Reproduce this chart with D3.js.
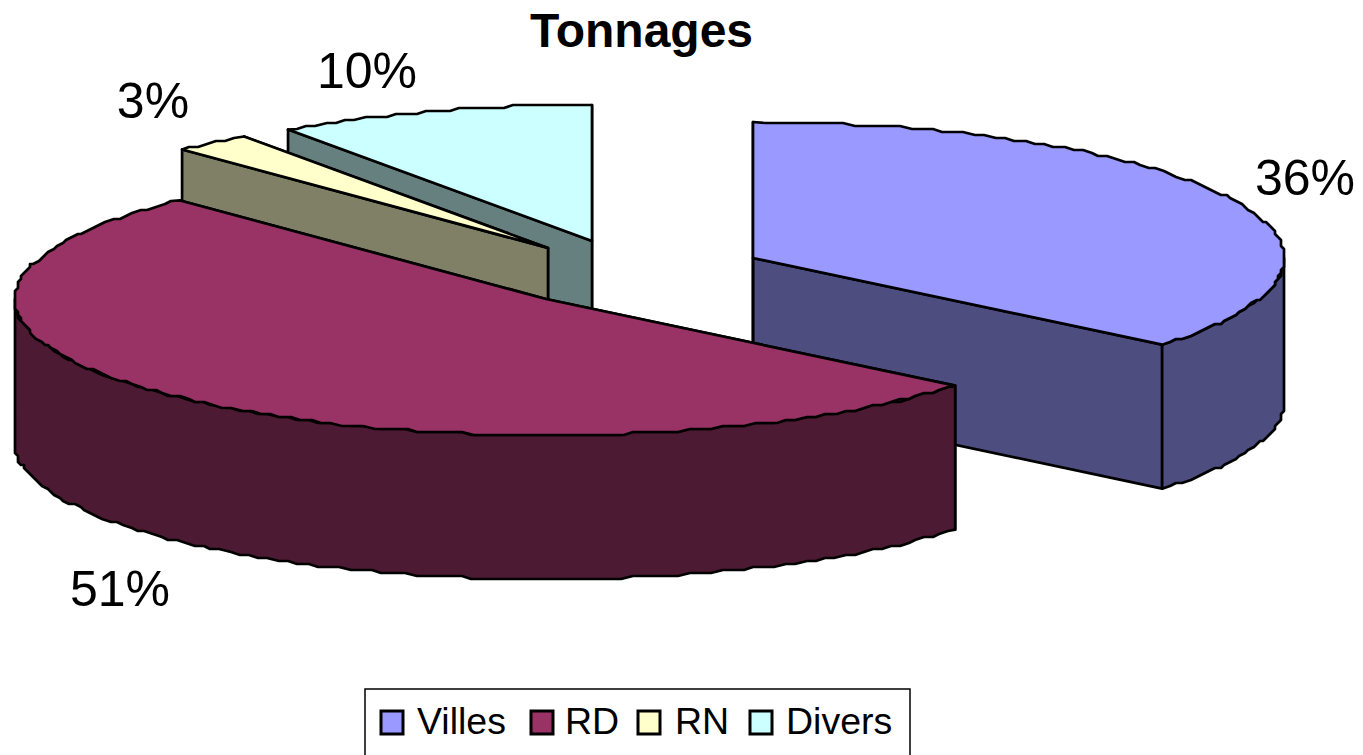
<!DOCTYPE html>
<html><head><meta charset="utf-8">
<script src="https://cdn.jsdelivr.net/npm/d3@7/dist/d3.min.js"></script>
<style>html,body{margin:0;padding:0;background:#fff;overflow:hidden}svg{display:block}text{font-family:"Liberation Sans",Arial,sans-serif;fill:#000}</style>
</head><body><svg id="c" width="1363" height="755"></svg>
<script>
const title = "Tonnages";
const categories = ["Villes", "RD", "RN", "Divers"];
const sliceValues = [36, 51.9, 2.4, 9.7];
const percentLabels = ["36%", "51%", "3%", "10%"];
const topColors = ["#9999ff", "#993366", "#ffffcc", "#ccffff"];
const wallColors = ["#4d4d80", "#4d1a33", "#808066", "#668080"];

const W = 1363, H = 755, rx = 531, ry = 136, depth = 144;
const centers = [[753,258],[546,299],[548,248],[592,241]];
const labelPos = [[1305,195],[120,606],[153,118],[367,88]];
const svg = d3.select("#c");
const arcs = d3.pie().sort(null).value(d=>d)(sliceValues);
const sx = d3.scaleLinear().domain([-1,1]).range([-rx,rx]);
const sy = d3.scaleLinear().domain([-1,1]).range([-ry,ry]);
const pt = (c,a,dz=0)=>[c[0]+sx(Math.sin(a)), c[1]-sy(Math.cos(a))+dz];
// the source was drawn on a coarse pixel grid: arc vertices snap to it
const GRID = 3;
const snap = p=>[Math.round(p[0]/GRID)*GRID, Math.round(p[1]/GRID)*GRID];
const samples = (a0,a1)=>{ const n=Math.max(2,Math.ceil((a1-a0)*46)); return d3.range(n+1).map(i=>a0+(a1-a0)*i/n); };
const rim = (c,as,dz=0)=>as.map((a,i)=>(i===0||i===as.length-1)?pt(c,a,dz):snap(pt(c,a,dz)));
const line = d3.line().curve(d3.curveLinear);
const poly = pts=>line(pts)+"Z";
const g = svg.append("g").attr("stroke","#000").attr("stroke-width",2.7).attr("stroke-linejoin","round");
[3,2,0,1].forEach(i=>{
  const d=arcs[i], c=centers[i];
  const face=a=>[c,pt(c,a),pt(c,a,depth),[c[0],c[1]+depth]];
  g.append("path").attr("d",poly(face(d.endAngle))).attr("fill",wallColors[i]);
  g.append("path").attr("d",poly(face(d.startAngle))).attr("fill",wallColors[i]);
  const a0=Math.max(d.startAngle,Math.PI/2), a1=Math.min(d.endAngle,Math.PI*1.5);
  if(a1>a0){
    const as=samples(a0,a1);
    const wall=rim(c,as).concat(rim(c,as,depth).reverse());
    g.append("path").attr("d",poly(wall)).attr("fill",wallColors[i]);
  }
  const top=[c].concat(rim(c,samples(d.startAngle,d.endAngle)));
  g.append("path").attr("d",poly(top)).attr("fill",topColors[i]);
});
svg.append("text").attr("x",641.5).attr("y",47).attr("text-anchor","middle")
  .attr("font-size",48).attr("font-weight","bold").text(title);
percentLabels.forEach((t,i)=>svg.append("text").attr("x",labelPos[i][0]).attr("y",labelPos[i][1])
  .attr("text-anchor","middle").attr("font-size",50).text(t));
svg.append("rect").attr("x",365).attr("y",689).attr("width",545).attr("height",80)
  .attr("fill","#fff").attr("stroke","#000").attr("stroke-width",1.5);
const legX=[381,531,638,750], legT=[417,565,675,786];
categories.forEach((t,i)=>{
  svg.append("rect").attr("x",legX[i]).attr("y",711).attr("width",22).attr("height",23)
    .attr("fill",topColors[i]).attr("stroke","#000").attr("stroke-width",3);
  svg.append("text").attr("x",legT[i]).attr("y",734).attr("font-size",37.5).text(t);
});
</script></body></html>
